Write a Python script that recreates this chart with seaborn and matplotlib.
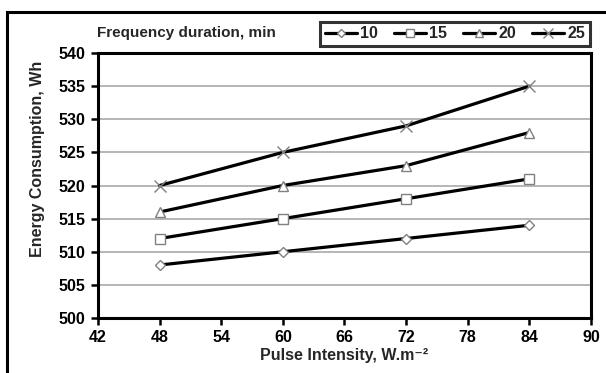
import matplotlib
matplotlib.use("Agg")
import matplotlib.pyplot as plt
import matplotlib.patches as mpatches
import seaborn as sns
import pandas as pd

intensity = [48, 60, 72, 84]
durations = ["10", "15", "20", "25"]
energy_10 = [508, 510, 512, 514]
energy_15 = [512, 515, 518, 521]
energy_20 = [516, 520, 523, 528]
energy_25 = [520, 525, 529, 535]
x_ticks = [42, 48, 54, 60, 66, 72, 78, 84, 90]
y_ticks = [500, 505, 510, 515, 520, 525, 530, 535, 540]

series = {"10": energy_10, "15": energy_15, "20": energy_20, "25": energy_25}
rows = []
for d in durations:
    for xi, yi in zip(intensity, series[d]):
        rows.append({"Intensity": xi, "Energy": yi, "Duration": d})
df = pd.DataFrame(rows)

sns.set_style("white")
plt.rcParams['font.family'] = ['Liberation Sans', 'DejaVu Sans']
plt.rcParams['font.weight'] = 'bold'

fig = plt.figure(figsize=(6.06, 3.73), dpi=100)
L, R, T, B = 98, 591, 53, 318
ax = fig.add_axes([L/606, 1 - B/373, (R - L)/606, (B - T)/373])

markers = {"10": "D", "15": "s", "20": "^", "25": "x"}
msizes = {"10": 5.5, "15": 7.5, "20": 7.5, "25": 8}
for d in durations:
    sub = df[df["Duration"] == d]
    sns.lineplot(data=sub, x="Intensity", y="Energy", ax=ax, color="black",
                 linewidth=2.3, marker=markers[d], markersize=msizes[d],
                 markerfacecolor="white", markeredgecolor="#808080",
                 markeredgewidth=1.0, label=d, legend=False, zorder=3)

ax.set_xlim(42, 90)
ax.set_ylim(500, 540)
ax.set_xticks(x_ticks)
ax.set_yticks(y_ticks)
ax.yaxis.grid(True, color="#b0b0b0", linewidth=1.3)
ax.xaxis.grid(False)
for s in ax.spines.values():
    s.set_visible(True)
    s.set_color("black")
    s.set_linewidth(2.2)
ax.tick_params(axis="both", which="both", direction="out", length=5, width=1.8,
               labelsize=11.5, colors="black", bottom=True, left=True)
ax.tick_params(axis="y", pad=4)
ax.tick_params(axis="x", pad=4)
for lab in ax.get_xticklabels() + ax.get_yticklabels():
    lab.set_fontweight("bold")
ax.set_xlabel("Pulse Intensity, W.m\u207b\u00b2", fontsize=11.5, fontweight="bold", labelpad=2)
ax.set_ylabel("Energy Consumption, Wh", fontsize=11.5, fontweight="bold")
ax.yaxis.set_label_coords((45 - L) / (R - L), (B - 159) / (B - T))

# Legend
handles = []
for d in durations:
    h = plt.Line2D([], [], color="black", linewidth=2.3, marker=markers[d],
                   markersize=msizes[d] - 1.5, markerfacecolor="white",
                   markeredgecolor="#808080", markeredgewidth=1.0, label=d)
    handles.append(h)
leg = fig.legend(handles=handles, labels=durations, ncol=4,
                 loc="center", bbox_to_anchor=(455/606, 1 - 34/373),
                 frameon=True, fancybox=False, handlelength=2.0,
                 handletextpad=0.2, columnspacing=1.0, borderpad=0.3,
                 prop={"weight": "bold", "size": 11.5})
leg.get_frame().set_edgecolor("black")
leg.get_frame().set_linewidth(2.2)

fig.text(97/606, 1 - 33/373, "Frequency duration, min", fontsize=11,
         fontweight="bold", va="center", ha="left")

# outer frame
rect = mpatches.Rectangle((7/606, -0.1), 1.2, 1 - 12/373 + 0.1,
                          transform=fig.transFigure, fill=False,
                          edgecolor="black", linewidth=2.2, clip_on=False)
fig.patches.append(rect)

fig.savefig("out.png", dpi=100)
